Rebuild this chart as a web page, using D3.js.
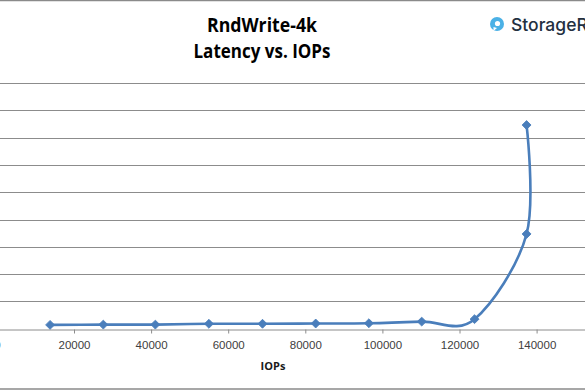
<!DOCTYPE html>
<html><head><meta charset="utf-8">
<script src="https://cdn.jsdelivr.net/npm/d3@7"></script>
<style>html,body{margin:0;padding:0;background:#fff;overflow:hidden}svg{display:block}</style>
</head><body>
<script>
const iops = [13800, 27600, 41100, 55000, 68900, 82700, 96500, 110200, 123900, 137400, 137400];
const latency = [0.14, 0.15, 0.15, 0.18, 0.18, 0.19, 0.20, 0.26, 0.35, 3.47, 7.46];
const xTicks = [0, 20000, 40000, 60000, 80000, 100000, 120000, 140000, 160000];
const yTicks = [0, 1, 2, 3, 4, 5, 6, 7, 8, 9];
const titleLines = ["RndWrite-4k", "Latency vs. IOPs"];
const xLabel = "IOPs";

const W = 585, H = 390;
const svg = d3.select("body").append("svg").attr("width", W).attr("height", H);

// frame lines
svg.append("line").attr("x1",0).attr("x2",W).attr("y1",0.5).attr("y2",0.5).attr("stroke","#8a8a8a").attr("stroke-width",1.5);
svg.append("line").attr("x1",0).attr("x2",W).attr("y1",389).attr("y2",389).attr("stroke","#8a8a8a").attr("stroke-width",1.5);

const x = d3.scaleLinear().domain([0,160000]).range([-3.1, -3.1 + 8*77.1]);
const y = d3.scaleLinear().domain([0,9]).range([328.7, 83]);

// gridlines
svg.append("g").selectAll("line").data(yTicks.slice(1)).join("line")
  .attr("x1", x(0)).attr("x2", x(160000))
  .attr("y1", d => Math.round(y(d))+0.5).attr("y2", d => Math.round(y(d))+0.5)
  .attr("stroke","#8c8c8c").attr("stroke-width",1);

// y axis (labels fall outside the visible crop, as in the reference)
svg.append("g").attr("transform",`translate(${x(0)},0)`)
  .call(d3.axisLeft(y).tickValues(yTicks).tickSize(0))
  .call(g=>g.select(".domain").remove())
  .selectAll("text").attr("fill","#595959").style("font","11px 'Liberation Sans', Arial, sans-serif");

// x axis
const xa = svg.append("g").attr("transform",`translate(0,${Math.round(y(0))+0.5})`)
  .call(d3.axisBottom(x).tickValues(xTicks).tickFormat(d3.format("d")).tickSize(4).tickSizeOuter(0).tickPadding(7));
xa.select(".domain").attr("stroke","#8c8c8c");
xa.selectAll(".tick line").attr("stroke","#8c8c8c");
xa.selectAll("text").attr("fill","#404040").style("font","11.5px 'Liberation Sans', Arial, sans-serif");

// line
const pts = iops.map((v,i)=>[v, latency[i]]);
const line = d3.line().x(d=>x(d[0])).y(d=>y(d[1])).curve(d3.curveCardinal.tension(0));
svg.append("path").datum(pts).attr("d", line).attr("fill","none")
  .attr("stroke","#4a7ebb").attr("stroke-width",2.6).attr("stroke-linejoin","round");

// markers (diamonds)
svg.append("g").selectAll("path").data(pts).join("path")
  .attr("transform", d=>`translate(${x(d[0])},${y(d[1])}) rotate(45)`)
  .attr("d", d3.symbol().type(d3.symbolSquare).size(40))
  .attr("fill","#4a7ebb").attr("stroke","#4a7ebb").attr("stroke-width",0.8);

// titles
svg.append("g").selectAll("text").data(titleLines).join("text")
  .attr("x", 262).attr("y", (d,i)=> i===0 ? 32 : 58)
  .attr("text-anchor","middle").attr("fill","#000")
  .style("font","bold 19px 'Open Sans', 'Liberation Sans', sans-serif")
  .attr("textLength",(d,i)=> i===0 ? 110 : 137).attr("lengthAdjust","spacingAndGlyphs")
  .text(d=>d);

// x label
svg.append("text").attr("x",273).attr("y",370).attr("text-anchor","middle")
  .style("font","bold 11px 'Open Sans', 'Liberation Sans', sans-serif").attr("fill","#1a1a1a").text(xLabel);

// logo
const logo = svg.append("g");
logo.append("circle").attr("cx",497).attr("cy",24).attr("r",7).attr("fill","#4bb1e6");
logo.append("circle").attr("cx",497.5).attr("cy",23.5).attr("r",2.6).attr("fill","#fff");
logo.append("path").attr("d","M493.5,27 L493.5,31 L497,28 Z").attr("fill","#fff");
logo.append("text").attr("x",511).attr("y",30.5).attr("fill","#23303f")
  .style("font","500 17.5px 'Inter', 'Noto Sans', sans-serif").text("StorageReview");
</script>
</body></html>
